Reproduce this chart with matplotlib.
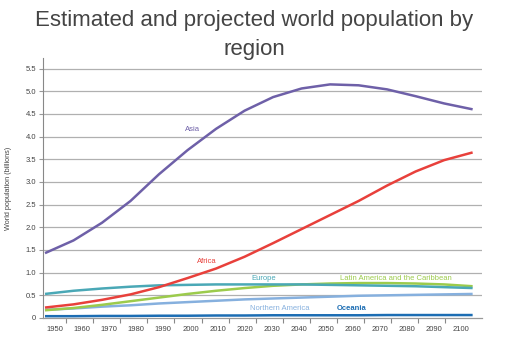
import numpy as np
import matplotlib
matplotlib.use("Agg")
import matplotlib.pyplot as plt

plt.rcParams['font.family'] = ['Liberation Sans', 'DejaVu Sans']

# Data (billions)
years = [1950, 1960, 1970, 1980, 1990, 2000, 2010, 2020,
         2030, 2040, 2050, 2060, 2070, 2080, 2090, 2100]
asia = [1.43, 1.71, 2.10, 2.58, 3.17, 3.70, 4.17, 4.57,
        4.87, 5.06, 5.15, 5.13, 5.04, 4.89, 4.73, 4.60]
africa = [0.23, 0.30, 0.40, 0.52, 0.68, 0.88, 1.09, 1.35,
          1.65, 1.96, 2.27, 2.58, 2.92, 3.23, 3.48, 3.65]
europe = [0.53, 0.60, 0.65, 0.69, 0.72, 0.73, 0.74, 0.74,
          0.74, 0.74, 0.73, 0.72, 0.71, 0.70, 0.68, 0.66]
latin = [0.17, 0.22, 0.29, 0.37, 0.45, 0.53, 0.60, 0.66,
         0.71, 0.74, 0.76, 0.77, 0.77, 0.76, 0.74, 0.70]
north_america = [0.18, 0.21, 0.25, 0.28, 0.32, 0.35, 0.38, 0.41,
                 0.43, 0.45, 0.47, 0.49, 0.50, 0.51, 0.52, 0.53]
oceania = [0.04, 0.04, 0.045, 0.045, 0.05, 0.05, 0.055, 0.055,
           0.06, 0.06, 0.06, 0.06, 0.065, 0.065, 0.065, 0.065]

tick_labels = [str(y) for y in range(1950, 2101, 10)]
y_ticks = [0, 0.5, 1.0, 1.5, 2.0, 2.5, 3.0, 3.5, 4.0, 4.5, 5.0, 5.5]
y_labels = ['0', '0.5', '1.0', '1.5', '2.0', '2.5', '3.0', '3.5',
            '4.0', '4.5', '5.0', '5.5']

series = [
    (oceania, '#1c6db3', 'Oceania', 2057.6, 0.22),
    (north_america, '#86b0de', 'Northern America', 2032.4, 0.22),
    (latin, '#9ccb4c', 'Latin America and the Caribbean', 2073.0, 0.88),
    (europe, '#4aa8b6', 'Europe', 2026.6, 0.88),
    (africa, '#e8403b', 'Africa', 2006.7, 1.24),
    (asia, '#6e60a8', 'Asia', 2001.8, 4.15),
]

fig = plt.figure(figsize=(5.15, 3.47), dpi=100)
ax = fig.add_axes([0.0835, 0.0836, 0.8525, 0.749])

for vals, color, name, tx, ty in series:
    ax.plot(years, vals, color=color, linewidth=1.8, solid_joinstyle='round',
            solid_capstyle='butt', zorder=3)
    ax.text(tx, ty, name, color=color, fontsize=5.5, ha='center', va='center',
            fontweight='bold' if name == 'Oceania' else 'normal')

ax.set_xlim(1949.3, 2103.3)
ax.set_ylim(0, 5.73)

# year labels sit between the tick marks
label_pos = np.linspace(1953.5, 2096, len(tick_labels))
ax.set_xticks(label_pos)
ax.set_xticklabels(tick_labels, fontsize=5.5, color='#444444')
ax.tick_params(axis='x', which='major', length=0, pad=6)
ax.set_xticks(label_pos[:-1] + 3.9, minor=True)
ax.tick_params(axis='x', which='minor', length=3.5, color='#888888', width=0.8)

ax.set_yticks(y_ticks)
ax.set_yticklabels(y_labels, fontsize=5.5, color='#444444')
ax.tick_params(axis='y', length=3, color='#999999', width=0.8, pad=2)

for y in y_ticks[1:]:
    ax.axhline(y, color='#b0b0b0', linewidth=0.9, zorder=1)

for s in ['top', 'right']:
    ax.spines[s].set_visible(False)
ax.spines['left'].set_color('#888888')
ax.spines['left'].set_linewidth(0.8)
ax.spines['bottom'].set_color('#999999')
ax.spines['bottom'].set_linewidth(0.9)

ax.set_ylabel('World population (billions)', fontsize=5.2, color='#444444', labelpad=10)

fig.text(0.493, 0.972, 'Estimated and projected world population by\nregion',
         ha='center', va='top', fontsize=16, color='#444444', linespacing=1.5)

plt.savefig('out.png', dpi=100)
